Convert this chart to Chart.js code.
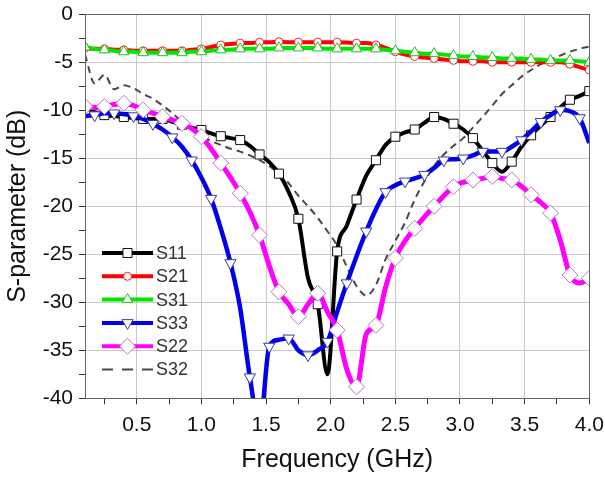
<!DOCTYPE html>
<html>
<head>
<meta charset="utf-8">
<script src="https://cdn.jsdelivr.net/npm/chart.js@4.4.0/dist/chart.umd.min.js"></script>
<style>
  html, body { margin: 0; padding: 0; background: #fff; }
</style>
</head>
<body>
<canvas id="sparam" width="605" height="477"></canvas>
<script>
// frequency points (GHz)
const freq = [0.1, 0.175, 0.25, 0.325, 0.4, 0.475, 0.55, 0.625, 0.7, 0.775, 0.85, 0.925,
  1.0, 1.075, 1.15, 1.225, 1.3, 1.375, 1.45, 1.525, 1.6, 1.675, 1.75, 1.825, 1.9, 1.975,
  2.05, 2.125, 2.2, 2.275, 2.35, 2.425, 2.5, 2.575, 2.65, 2.725, 2.8, 2.875, 2.95, 3.025,
  3.1, 3.175, 3.25, 3.325, 3.4, 3.475, 3.55, 3.625, 3.7, 3.775, 3.85, 3.925, 4.0];

// S-parameters in dB
const s11 = [-10.0, -10.2, -10.5, -10.6, -10.7, -10.8, -10.9, -10.9, -10.9, -11.2, -11.5, -11.8,
  -12.05, -12.4, -12.7, -12.9, -13.1, -13.7, -14.6, -15.4, -16.6, -18.5, -21.3, -27.5, -30.2, -37.5,
  -24.7, -22.0, -19.3, -16.8, -15.2, -13.6, -12.75, -12.3, -12.0, -11.3, -10.7, -10.9, -11.4, -12.0,
  -12.9, -14.2, -15.5, -16.4, -15.35, -13.8, -12.6, -11.6, -10.7, -9.7, -8.9, -8.5, -8.0];
const s21 = [-3.5, -3.6, -3.6, -3.7, -3.7, -3.8, -3.8, -3.8, -3.8, -3.8, -3.8, -3.7,
  -3.6, -3.4, -3.2, -3.1, -3.0, -3.0, -2.9, -2.9, -2.85, -2.9, -2.9, -2.9, -2.9, -2.9,
  -2.9, -2.95, -3.0, -3.0, -3.2, -3.5, -3.9, -4.2, -4.4, -4.5, -4.6, -4.7, -4.8, -4.9,
  -4.9, -4.9, -5.0, -5.0, -5.0, -5.0, -5.0, -5.0, -5.0, -5.0, -5.2, -5.5, -5.8];
const s31 = [-3.4, -3.6, -3.7, -3.8, -3.9, -3.9, -4.0, -4.0, -4.0, -4.0, -4.0, -3.9,
  -3.9, -3.8, -3.7, -3.7, -3.6, -3.6, -3.6, -3.6, -3.5, -3.5, -3.5, -3.5, -3.5, -3.6,
  -3.6, -3.6, -3.6, -3.6, -3.6, -3.7, -3.8, -3.9, -4.0, -4.1, -4.1, -4.2, -4.3, -4.4,
  -4.4, -4.5, -4.5, -4.6, -4.6, -4.6, -4.7, -4.7, -4.8, -4.8, -4.8, -4.9, -5.0];
const s33 = [-10.6, -10.5, -10.3, -10.3, -10.4, -10.6, -10.9, -11.4, -12.0, -12.8, -13.8, -15.2,
  -17.0, -19.2, -22.3, -25.9, -30.6, -37.8, -43.0, -34.6, -33.9, -33.75, -35.0, -35.5, -35.0, -34.1,
  -31.0, -28.0, -25.2, -22.6, -20.3, -18.5, -17.8, -17.4, -17.1, -16.7, -16.0, -15.2, -15.1, -15.0,
  -14.7, -14.3, -14.3, -14.3, -13.8, -13.1, -12.2, -11.2, -10.5, -9.97, -10.1, -10.8, -13.4];
const s22 = [-9.6, -9.7, -9.6, -9.4, -9.27, -9.5, -9.97, -10.3, -10.67, -11.0, -11.35, -11.9,
  -12.75, -14.0, -15.5, -17.0, -18.65, -20.6, -23.0, -26.2, -28.9, -30.2, -31.5, -30.2, -29.06, -31.0,
  -32.9, -37.0, -38.8, -33.3, -32.4, -28.4, -25.4, -23.6, -22.3, -21.1, -20.0, -18.9, -17.96, -17.5,
  -17.26, -17.1, -16.9, -17.1, -17.26, -17.9, -18.8, -19.6, -20.7, -23.5, -27.15, -28.0, -27.5];
const s32 = [-4.2, -7.2, -6.3, -7.8, -7.4, -7.7, -8.3, -8.8, -9.5, -10.3, -11.2, -12.0,
  -12.6, -13.2, -13.6, -14.0, -14.3, -14.7, -15.2, -15.8, -16.6, -17.6, -18.9, -20.0, -21.2, -22.6,
  -24.1, -26.3, -28.3, -29.3, -28.2, -25.5, -23.6, -21.7, -19.3, -17.4, -15.8, -14.6, -13.7, -12.9,
  -11.8, -10.7, -9.5, -8.3, -7.4, -6.5, -5.8, -5.2, -4.7, -4.3, -3.9, -3.6, -3.35];

// axis ticks (minor + major), labels only on the majors
const xTicks = [0.25, 0.5, 0.75, 1.0, 1.25, 1.5, 1.75, 2.0, 2.25, 2.5, 2.75, 3.0, 3.25, 3.5, 3.75, 4.0];
const xLabels = ['0.5', '1.0', '1.5', '2.0', '2.5', '3.0', '3.5', '4.0'];
const yTicks = [0, -2.5, -5, -7.5, -10, -12.5, -15, -17.5, -20, -22.5, -25, -27.5, -30, -32.5, -35, -37.5, -40];
const yLabels = ['0', '-5', '-10', '-15', '-20', '-25', '-30', '-35', '-40'];

const FONT = "'Liberation Sans', Arial, sans-serif";

function pts(vals) {
    return freq.map((f, i) => ({ x: f, y: vals[i] }));
}
function every(phase, r) {
    return ctx => (ctx.dataIndex % 2 === phase ? r : 0);
}
function xLabel(v) {
    const s = v.toFixed(1);
    return xLabels.includes(s) ? s : '';
}
function yLabel(v) {
    const s = String(v);
    return yLabels.includes(s) ? s : '';
}

const series = [
    { label: 'S11', data: pts(s11), borderColor: '#000000', borderWidth: 4,
      pointStyle: 'rect', pointRadius: every(0, 6.4), pointBorderColor: '#111', order: 5 },
    { label: 'S21', data: pts(s21), borderColor: '#ff0000', borderWidth: 4,
      pointStyle: 'circle', pointRadius: every(0, 4), pointBorderColor: '#ff2020', order: 4 },
    { label: 'S31', data: pts(s31), borderColor: '#00e600', borderWidth: 4,
      pointStyle: 'triangle', pointRadius: every(0, 6), pointBorderColor: '#20c020', order: 3 },
    { label: 'S33', data: pts(s33), borderColor: '#0000ee', borderWidth: 4.5,
      pointStyle: 'triangle', pointRotation: 180, pointRadius: every(1, 6.5), pointBorderColor: '#3a3aa0', order: 2 },
    { label: 'S22', data: pts(s22), borderColor: '#ff00ff', borderWidth: 5,
      pointStyle: 'rectRot', pointRadius: every(0, 8), pointBorderColor: '#c070c8', order: 1 },
    { label: 'S32', data: pts(s32), borderColor: '#484848', borderWidth: 2, borderDash: [7, 5],
      pointRadius: 0, order: 6 }
];
series.forEach(d => {
    d.pointBackgroundColor = '#ffffff';
    d.pointBorderWidth = 1;
    d.cubicInterpolationMode = 'monotone';
    d.fill = false;
});

// frame on top/right of the plot
const framePlugin = {
    id: 'frame',
    afterDatasetsDraw(chart) {
        const a = chart.chartArea, c = chart.ctx;
        c.save();
        c.strokeStyle = '#666';
        c.lineWidth = 1;
        c.strokeRect(Math.round(a.left) + 0.5, Math.round(a.top) + 0.5,
            Math.round(a.right - a.left), Math.round(a.bottom - a.top));
        c.restore();
    }
};

// legend drawn inside the plot, line + marker + text
const legendPlugin = {
    id: 'innerLegend',
    afterDraw(chart) {
        const c = chart.ctx;
        const x0 = 102, x1 = 153, y0 = 253;
        c.save();
        series.forEach((d, i) => {
            const y = y0 + i * 23.3;
            c.strokeStyle = d.borderColor;
            c.lineWidth = d.borderDash ? 2 : 4;
            c.setLineDash(d.borderDash ? [11, 9] : []);
            c.beginPath();
            c.moveTo(x0, y);
            c.lineTo(x1, y);
            c.stroke();
            c.setLineDash([]);
            if (d.pointStyle) {
                const r = d.pointRadius({ dataIndex: d.pointRotation ? 1 : 0 });
                c.fillStyle = '#ffffff';
                c.strokeStyle = d.pointBorderColor;
                c.lineWidth = 1;
                Chart.helpers.drawPoint(c, {
                    pointStyle: d.pointStyle, rotation: d.pointRotation || 0,
                    radius: r, borderWidth: 1
                }, (x0 + x1) / 2, y);
            }
            c.fillStyle = '#333';
            c.font = '18px ' + FONT;
            c.textBaseline = 'middle';
            c.textAlign = 'left';
            c.fillText(d.label, x1 + 3, y + 1);
        });
        c.restore();
    }
};

new Chart(document.getElementById('sparam').getContext('2d'), {
    type: 'line',
    data: { datasets: series },
    options: {
        responsive: false,
        animation: false,
        events: [],
        layout: { padding: { top: 14.3, right: 15.7, left: 0, bottom: 0 } },
        plugins: { legend: { display: false }, tooltip: { enabled: false } },
        scales: {
            x: {
                type: 'linear',
                min: 0.1,
                max: 4.0,
                afterBuildTicks: s => { s.ticks = xTicks.map(v => ({ value: v })); },
                afterFit: s => { s.height = 78.7; s.paddingRight = 8; s.paddingLeft = 8; },
                ticks: {
                    callback: xLabel,
                    autoSkip: false,
                    maxRotation: 0,
                    padding: 8,
                    color: '#111',
                    font: { family: FONT, size: 21 }
                },
                grid: {
                    color: ctx => (xLabel(ctx.tick.value) ? '#c8c8c8' : 'rgba(0,0,0,0)'),
                    tickColor: '#333',
                    tickLength: 6
                },
                border: { color: '#333', width: 1 },
                title: {
                    display: true,
                    text: 'Frequency (GHz)',
                    color: '#111',
                    font: { family: FONT, size: 25 },
                    padding: { top: 0, bottom: 2 }
                }
            },
            y: {
                min: -40,
                max: 0,
                afterBuildTicks: s => { s.ticks = yTicks.map(v => ({ value: v })); },
                afterFit: s => { s.width = 85; },
                ticks: {
                    callback: yLabel,
                    autoSkip: false,
                    padding: 6,
                    color: '#111',
                    font: { family: FONT, size: 21, lineHeight: 0.6 }
                },
                grid: {
                    color: ctx => (yLabel(ctx.tick.value) ? '#c8c8c8' : 'rgba(0,0,0,0)'),
                    tickColor: '#333',
                    tickLength: 6
                },
                border: { color: '#333', width: 1 },
                title: {
                    display: true,
                    text: 'S-parameter (dB)',
                    color: '#111',
                    font: { family: FONT, size: 25 },
                    padding: { top: 3, bottom: 0 }
                }
            }
        }
    },
    plugins: [framePlugin, legendPlugin]
});
</script>
</body>
</html>
